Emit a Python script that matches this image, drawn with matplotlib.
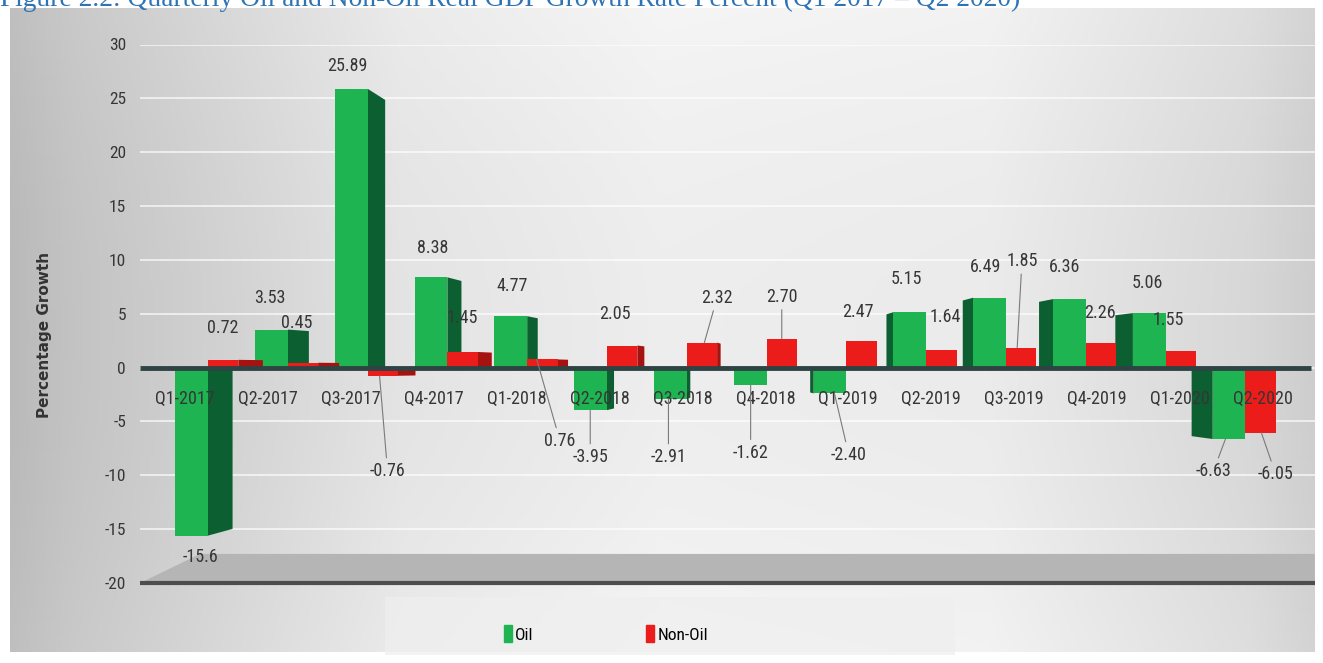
import numpy as np
import matplotlib
matplotlib.use("Agg")
import matplotlib.pyplot as plt
from matplotlib.patches import Patch, Polygon, Rectangle

# ── Data ─────────────────────────────────────────────────────────────────────

quarters = ["Q1-2017", "Q2-2017", "Q3-2017", "Q4-2017", "Q1-2018", "Q2-2018",
            "Q3-2018", "Q4-2018", "Q1-2019", "Q2-2019", "Q3-2019", "Q4-2019",
            "Q1-2020", "Q2-2020"]
oil = [-15.6, 3.53, 25.89, 8.38, 4.77, -3.95, -2.91, -1.62, -2.40, 5.15,
       6.49, 6.36, 5.06, -6.63]
non_oil = [0.72, 0.45, -0.76, 1.45, 0.76, 2.05, 2.32, 2.70, 2.47, 1.64,
           1.85, 2.26, 1.55, -6.05]

# label placement (offset from category centre, y in data units)
oil_lab_dx = [-0.10, -0.23, -0.25, -0.19, -0.19, -0.21, -0.23, -0.20, 0.03,
              -0.25, -0.26, -0.26, -0.23, -0.40]
oil_lab_y = [-17.6, 6.5, 28.0, 11.1, 7.6, -8.3, -8.3, -7.9, -8.1, 8.2, 9.3,
             9.3, 7.9, -9.6]
oil_leader = [None, None, None, None, None, -0.21, -0.23, -0.20, -0.15, None,
              None, None, None, -0.25]
non_lab_dx = [0.18, 0.11, 0.25, 0.19, 0.41, 0.10, 0.38, 0.19, 0.14, 0.24,
              0.20, 0.18, 0.03, 0.38]
non_lab_y = [3.7, 4.1, -9.6, 4.6, -6.8, 5.0, 6.5, 6.6, 5.2, 4.7, 9.9, 5.1,
             4.4, -9.9]
non_leader = [None, None, 0.15, None, 0.12, None, 0.22, 0.19, None, None,
              0.14, None, None, 0.20]

# ── Style ────────────────────────────────────────────────────────────────────

GREEN = "#1fb452"
GREEN_DARK = "#0c5f31"
RED = "#ec1c1b"
RED_DARK = "#a5120f"
TXT = "#363636"
FONT = ["Liberation Sans Narrow", "Roboto Condensed", "Open Sans Condensed",
        "Liberation Sans", "DejaVu Sans"]
OIL_W, NON_W = 0.41, 0.38

plt.rcParams["font.family"] = FONT
plt.rcParams["axes.unicode_minus"] = False

fig = plt.figure(figsize=(13.23, 6.63), dpi=100)
W, H = 1323, 663

# gradient panel behind the chart
bg = fig.add_axes([10 / W, 11 / H, 1305 / W, 644 / H])
gx = np.linspace(0, 1, 400)
prof = np.interp(gx, [0, 0.05, 0.3, 0.5, 0.75, 0.95, 1],
                 [0.75, 0.79, 0.92, 0.96, 0.95, 0.87, 0.83])
gy = np.linspace(0, 1, 200)[:, None]
vert = 1.0 - 0.03 * np.sin(np.pi * gy)
img = np.clip(prof[None, :] * vert, 0, 1)
bg.imshow(np.dstack([img] * 3), aspect="auto", extent=[0, 1, 0, 1])
bg.axis("off")

# legend strip
fig.patches.append(Rectangle((385 / W, 8 / H), 570 / W, 58 / H,
                             transform=fig.transFigure, facecolor="#efefef",
                             edgecolor="none", alpha=0.7, zorder=0))

ax = fig.add_axes([140 / W, 80 / H, 1175 / W, 538.5 / H])
ax.patch.set_alpha(0)
ax.set_xlim(-0.852, 13.872)
ax.set_ylim(-20, 30)
for s in ax.spines.values():
    s.set_visible(False)
ax.set_xticks([])
ax.set_yticks(range(-20, 31, 5))
ax.tick_params(axis="y", length=0, pad=10, labelsize=12.5, labelcolor=TXT)
ax.yaxis.grid(True, color="white", lw=1.3, alpha=0.7)
ax.set_axisbelow(True)

x = np.arange(len(quarters))
depth = 0.044 * (7 - x)

# floor at -20
ax.add_patch(Polygon([(-0.85, -20), (-0.1, -17.3), (13.87, -17.3), (13.87, -20)],
                     closed=True, facecolor="#b5b5b5", edgecolor="none",
                     clip_on=False, zorder=1))
ax.plot([-0.85, 13.87], [-20, -20], color="#4d4d4d", lw=3, clip_on=False,
        zorder=1.5, solid_capstyle="butt")

# side faces of the oil columns
for i, v in enumerate(oil):
    d = depth[i]
    edge = i if d > 0 else i - OIL_W
    ax.fill([edge, edge, edge + d, edge + d], [0, v, v * 0.96, 0],
            color=GREEN_DARK, zorder=3, lw=0)
ax.bar(x - OIL_W / 2, oil, width=OIL_W, color=GREEN, zorder=4)

for i, v in enumerate(non_oil):
    d = depth[i]
    if d > 0:
        edge = i + NON_W
        ax.fill([edge, edge, edge + d, edge + d], [0, v, v * 0.96, 0],
                color=RED_DARK, zorder=4.4, lw=0)
ax.bar(x + NON_W / 2, non_oil, width=NON_W, color=RED, zorder=4.5)

# zero line
ax.plot([-0.85, 13.82], [0, 0], color="#2f4345", lw=3.5, zorder=6,
        solid_capstyle="butt")

# category labels just under the zero line (perspective spreads them)
for i, q in enumerate(quarters):
    ax.text(i + 0.039 * (i - 7.4), -2.1, q, ha="center", va="top",
            fontsize=13, color=TXT, zorder=6.5)

# data labels
lead = dict(arrowstyle="-", color="#7a7a7a", lw=0.8, shrinkA=1, shrinkB=0)
for i, v in enumerate(oil):
    txt = "-15.6" if i == 0 else f"{v:.2f}"
    pos = (i + oil_lab_dx[i], oil_lab_y[i])
    if oil_leader[i] is None:
        ax.annotate(txt, xy=pos, ha="center", va="center", fontsize=13,
                    color=TXT, zorder=7)
    else:
        ax.annotate(txt, xy=(i + oil_leader[i], v), xytext=pos, ha="center",
                    va="center", fontsize=13, color=TXT, zorder=7,
                    arrowprops=lead)
for i, v in enumerate(non_oil):
    txt = f"{v:.2f}"
    pos = (i + non_lab_dx[i], non_lab_y[i])
    if non_leader[i] is None:
        ax.annotate(txt, xy=pos, ha="center", va="center", fontsize=13,
                    color=TXT, zorder=7)
    else:
        ax.annotate(txt, xy=(i + non_leader[i], v), xytext=pos, ha="center",
                    va="center", fontsize=13, color=TXT, zorder=7,
                    arrowprops=lead)

fig.text(45 / W, 1 - 335 / H, "Percentage Growth", rotation=90, ha="center",
         va="center", fontsize=11, fontweight="bold", color="#333333",
         family=["DejaVu Sans"])

fig.legend(handles=[Patch(color=GREEN), Patch(color=RED)],
           labels=["Oil", "Non-Oil"], loc="center",
           bbox_to_anchor=(606 / W, 1 - 634 / H), ncol=2, frameon=False,
           handlelength=0.45, handleheight=1.1, handletextpad=0.2,
           columnspacing=6.5, fontsize=12.5)

# title is cropped at the top edge, as in the source figure
fig.text(0.0, 1 - 6 / H,
         "Figure 2.2: Quarterly Oil and Non-Oil Real GDP Growth Rate Percent (Q1 2017 \u2013 Q2 2020)",
         ha="left", va="baseline", fontsize=19.8, color="#2e74b5",
         family=["Liberation Serif", "DejaVu Serif"])

fig.savefig("out.png", dpi=100)
